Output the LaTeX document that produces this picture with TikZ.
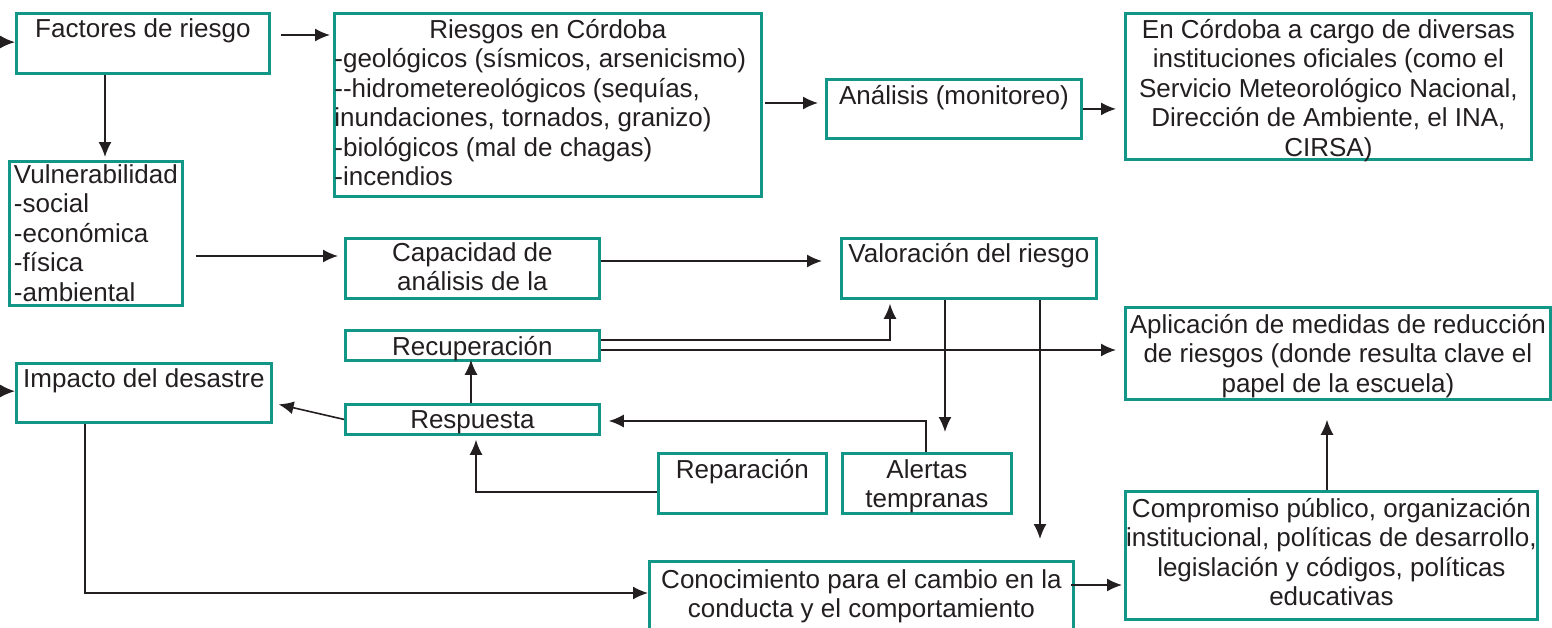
\documentclass[tikz,border=0pt]{standalone}
\usepackage{fontspec}
\setmainfont{Liberation Sans}
\usetikzlibrary{arrows.meta}
\definecolor{boxteal}{RGB}{18,150,136}
\definecolor{ink}{RGB}{35,31,32}

\begin{document}
\begin{tikzpicture}[x=0.5pt, y=-0.5pt,
    box/.style={draw=boxteal, line width=1.4pt, fill=white, inner sep=0pt, anchor=north west, text=ink, font=\fontsize{13pt}{14.7pt}\selectfont},
    arr/.style={-{Latex[length=7.5pt,width=6.5pt]}, line width=0.8pt, draw=ink}]
    \useasboundingbox (0,0) rectangle (1552,627);

    \node[box, minimum width=126.5pt, text height=12pt, text depth=18pt] (factores) at (15,12) {Factores de riesgo};
    \node[box, align=left, text height=86pt, text depth=5.5pt] (riesgos) at (333,12) {\makebox[213.5pt]{Riesgos en Córdoba}\\-geológicos (sísmicos, arsenicismo)\\-{}-hidrometereológicos (sequías,\\inundaciones, tornados, granizo)\\-biológicos (mal de chagas)\\-incendios};
    \node[box, minimum width=127.5pt, text height=12.5pt, text depth=17pt] (analisis) at (825,78) {Análisis (monitoreo)};
    \node[box, minimum width=203pt, align=center, text height=71.3pt, text depth=1.7pt] (encordoba) at (1124,12) {En Córdoba a cargo de diversas\\instituciones oficiales (como el\\Servicio Meteorológico Nacional,\\Dirección de Ambiente, el INA,\\CIRSA)};

    \node[box, minimum width=86.5pt, align=left, text height=69.8pt, text depth=2.2pt] (vulner) at (8,160) {Vulnerabilidad\\-social\\-económica\\-física\\-ambiental};
    \node[box, minimum width=127pt, align=center, text height=26.2pt, text depth=3.8pt] (capacidad) at (344,237) {Capacidad de\\análisis de la};
    \node[box, minimum width=127.5pt, text height=12pt, text depth=18pt] (valoracion) at (840,237) {Valoración del riesgo};
    \node[box, minimum width=212.5pt, align=center, text height=42.4pt, text depth=3.6pt] (aplicacion) at (1124,306) {Aplicación de medidas de reducción\\de riesgos (donde resulta clave el\\papel de la escuela)};

    \node[box, minimum width=127pt, text height=12.5pt, text depth=2.5pt] (recuperacion) at (344,329) {Recuperación};
    \node[box, minimum width=127.5pt, text height=12pt, text depth=17.5pt] (impacto) at (15,362) {Impacto del desastre};
    \node[box, minimum width=127pt, text height=12pt, text depth=3pt] (respuesta) at (344,403) {Respuesta};
    \node[box, minimum width=84pt, text height=12.5pt, text depth=17.5pt] (reparacion) at (657,452) {Reparación};
    \node[box, minimum width=84.5pt, align=center, text height=27.2pt, text depth=2.8pt] (alertas) at (841,452) {Alertas\\tempranas};
    \node[box, minimum width=206pt, align=center, text height=57.1pt, text depth=6.9pt] (compromiso) at (1124,490) {Compromiso público, organización\\institucional, políticas de desarrollo,\\legislación y códigos, políticas\\educativas};
    \node[box, minimum width=212pt, align=center, text height=28.2pt, text depth=25.3pt] (conocimiento) at (648,560) {Conocimiento para el cambio en la\\conducta y el comportamiento};

    \coordinate (inF) at (0,42);
    \coordinate (inI) at (0,391);

    \draw[arr] (inF) -- (factores);
    \draw[arr] (inI) -- (impacto);
    \draw[arr, shorten <=5pt, shorten >=1.5pt] (factores.east |- 0,35) -- (riesgos.west |- 0,35);
    \draw[arr, shorten >=1.5pt] (factores.south -| 105,0) -- (vulner.north -| 105,0);
    \draw[arr, shorten <=1pt, shorten >=3.5pt] (riesgos.east |- 0,103) -- (analisis.west |- 0,103);
    \draw[arr, shorten >=4pt] (analisis.east) -- (analisis.east -| encordoba.west);
    \draw[arr, shorten <=6pt, shorten >=3pt] (vulner.east |- 0,256) -- (capacidad.west |- 0,256);
    \draw[arr, shorten >=9pt] (capacidad.east |- 0,261) -- (valoracion.west |- 0,261);
    \draw[arr, shorten >=2pt] (recuperacion.east |- 0,340) -| (valoracion.south -| 890,0);
    \draw[arr, shorten >=4pt] (recuperacion.east |- 0,350) -- (aplicacion.west |- 0,350);
    \draw[arr, shorten >=-1pt] (respuesta.north -| 471,0) -- (recuperacion.south -| 471,0);
    \draw[arr, shorten >=3pt] (respuesta.west) -- (impacto.east |- 0,403);
    \draw[arr, shorten >=2pt] (reparacion.west |- 0,492) -| (respuesta.south -| 476,0);
    \draw[arr, shorten >=4pt] (alertas.north -| 926,0) |- (respuesta.east |- 0,421);
    \draw[arr, shorten >=10pt] (valoracion.south -| 945,0) -- (alertas.north -| 945,0);
    \draw[arr, shorten >=10.5pt] (valoracion.south -| 1040,0) -- (conocimiento.north -| 1040,0);
    \draw[arr] (impacto.south -| 85,0) |- (conocimiento.west |- 0,593);
    \draw[arr, shorten <=-2pt, shorten >=1pt] (conocimiento.east |- 0,585) -- (compromiso.west |- 0,585);
    \draw[arr, shorten >=9.5pt] (compromiso.north -| 1327,0) -- (aplicacion.south -| 1327,0);
\end{tikzpicture}
\end{document}
